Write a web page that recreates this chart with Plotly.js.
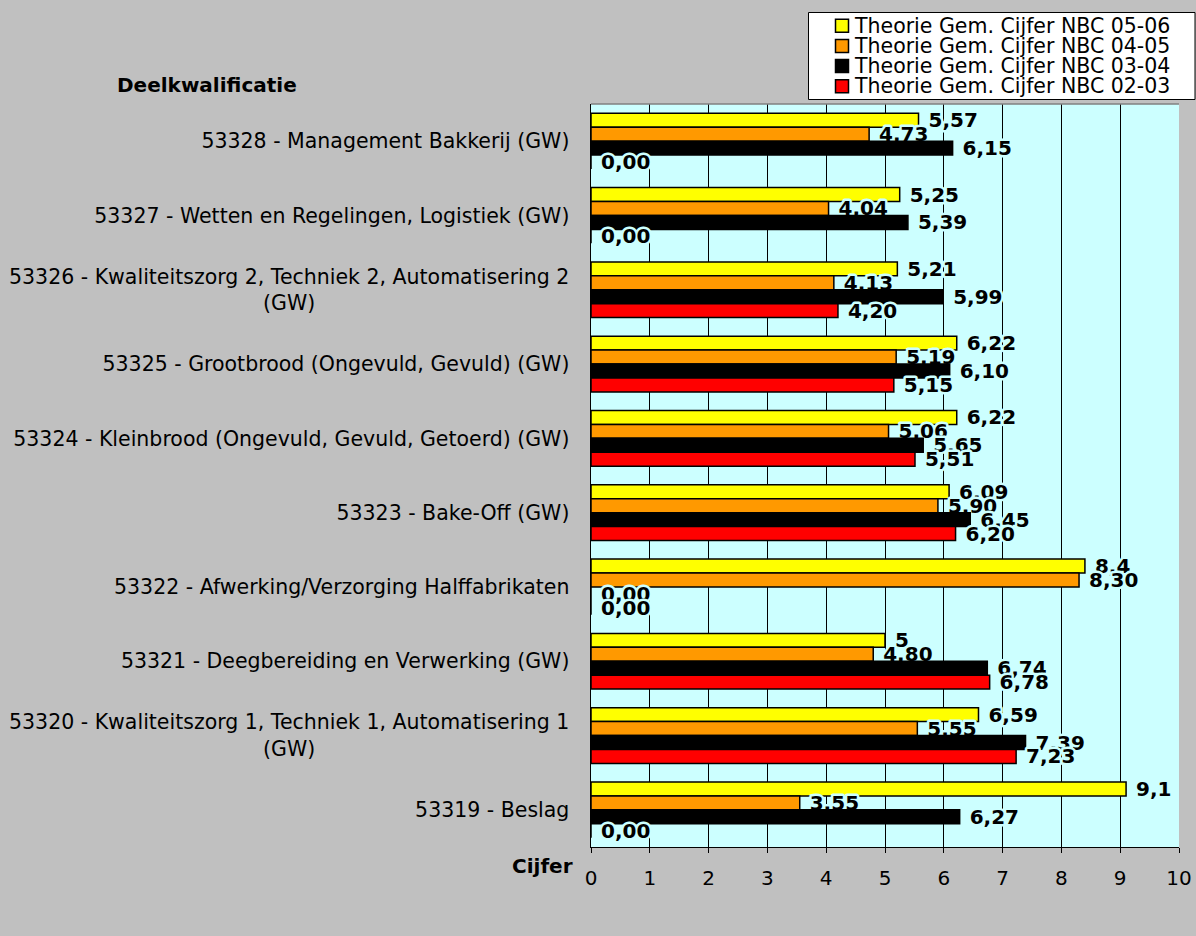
<!DOCTYPE html>
<html><head><meta charset="utf-8">
<script src="https://cdn.plot.ly/plotly-3.0.1.min.js"></script>
<style>
html,body{margin:0;padding:0;background:#c0c0c0}
text.bartext{stroke:#CCFFFF;stroke-width:5px;stroke-linejoin:round;paint-order:stroke fill;}
</style>
</head><body><div id="chart" style="width:1196px;height:936px"></div>
<script>
const NB = '\u00a0';
const categories = [
  "53328 - Management Bakkerij (GW)",
  "53327 - Wetten en Regelingen, Logistiek (GW)",
  "53326 - Kwaliteitszorg 2, Techniek 2, Automatisering 2<br>(GW)" + NB.repeat(39),
  "53325 - Grootbrood (Ongevuld, Gevuld) (GW)",
  "53324 - Kleinbrood (Ongevuld, Gevuld, Getoerd) (GW)",
  "53323 - Bake-Off (GW)",
  "53322 - Afwerking/Verzorging Halffabrikaten",
  "53321 - Deegbereiding en Verwerking (GW)",
  "53320 - Kwaliteitszorg 1, Techniek 1, Automatisering 1<br>(GW)" + NB.repeat(39),
  "53319 - Beslag"
];
const seriesNames = [
  "Theorie Gem. Cijfer NBC 05-06",
  "Theorie Gem. Cijfer NBC 04-05",
  "Theorie Gem. Cijfer NBC 03-04",
  "Theorie Gem. Cijfer NBC 02-03"
];
const seriesColors = ["#FFFF00", "#FF9900", "#000000", "#FF0000"];

const values0506 = [5.57, 5.25, 5.21, 6.22, 6.22, 6.09, 8.4, 5, 6.59, 9.1];
const values0405 = [4.73, 4.04, 4.13, 5.19, 5.06, 5.90, 8.30, 4.80, 5.55, 3.55];
const values0304 = [6.15, 5.39, 5.99, 6.10, 5.65, 6.45, 0.00, 6.74, 7.39, 6.27];
const values0203 = [0.00, 0.00, 4.20, 5.15, 5.51, 6.20, 0.00, 6.78, 7.23, 0.00];

const labels0506 = ["5,57", "5,25", "5,21", "6,22", "6,22", "6,09", "8,4", "5", "6,59", "9,1"];
const labels0405 = ["4,73", "4,04", "4,13", "5,19", "5,06", "5,90", "8,30", "4,80", "5,55", "3,55"];
const labels0304 = ["6,15", "5,39", "5,99", "6,10", "5,65", "6,45", "0,00", "6,74", "7,39", "6,27"];
const labels0203 = ["0,00", "0,00", "4,20", "5,15", "5,51", "6,20", "0,00", "6,78", "7,23", "0,00"];

const allValues = [values0506, values0405, values0304, values0203];
const allLabels = [labels0506, labels0405, labels0304, labels0203];

const FONT = "DejaVu Sans, Verdana, sans-serif";

// plot area in pixels (for layout-only helpers: legend box, titles)
const PL = 591, PR = 1179, PT = 104, PB = 847;
const px = x => (x - PL) / (PR - PL);
const py = y => (PB - y) / (PB - PT);

const traces = allValues.map((vals, i) => ({
  type: 'bar',
  orientation: 'h',
  name: seriesNames[i],
  x: vals,
  y: categories,
  text: allLabels[i],
  texttemplate: NB + '%{text}',
  textposition: 'outside',
  constraintext: 'none',
  cliponaxis: false,
  outsidetextfont: {family: FONT, size: 20, color: '#000000', weight: 'bold'},
  marker: {color: seriesColors[i], line: {color: '#000000', width: 1.5}},
  showlegend: false,
  hoverinfo: 'x+y+name'
}));

// legend drawn as layout shapes + text annotations
const legendShapes = [
  {type: 'rect', xref: 'paper', yref: 'paper', layer: 'above',
   x0: px(808.5), x1: px(1195), y0: py(12.5), y1: py(99.5),
   fillcolor: '#FFFFFF', line: {color: '#000000', width: 1}}
];
const legendAnnotations = [];
const rowY = [25.8, 46, 66.1, 86.3];
seriesNames.forEach((name, i) => {
  legendShapes.push({type: 'rect', xref: 'paper', yref: 'paper', layer: 'above',
    x0: px(835.5), x1: px(848.5), y0: py(rowY[i] - 6.5), y1: py(rowY[i] + 6.5),
    fillcolor: seriesColors[i], line: {color: '#000000', width: 1.5}});
  legendAnnotations.push({text: name, xref: 'paper', yref: 'paper',
    x: px(852), xanchor: 'left', y: py(rowY[i]), yanchor: 'middle',
    showarrow: false, font: {family: FONT, size: 20.5, color: '#000000'}});
});

const layout = {
  width: 1196, height: 936,
  paper_bgcolor: '#C0C0C0',
  plot_bgcolor: '#CCFFFF',
  margin: {l: PL, r: 1196 - PR, t: PT, b: 936 - PB, pad: 0, autoexpand: false},
  barmode: 'group',
  bargap: 0.25,
  bargroupgap: 0,
  font: {family: FONT, size: 20, color: '#000000'},
  showlegend: false,
  xaxis: {
    range: [0, 10], tick0: 0, dtick: 1,
    showgrid: true, gridcolor: '#000000', gridwidth: 1,
    zeroline: false,
    showline: true, linecolor: '#000000', linewidth: 1,
    ticks: 'outside', ticklen: 5, tickcolor: '#000000', tickwidth: 1,
    ticklabelstandoff: 8,
    tickfont: {family: FONT, size: 20, color: '#000000'},
    automargin: false, fixedrange: true
  },
  yaxis: {
    type: 'category',
    autorange: 'reversed',
    showgrid: false, zeroline: false,
    showline: true, linecolor: '#000000', linewidth: 1.5,
    ticks: '', ticklabelstandoff: 16,
    tickfont: {family: FONT, size: 20.5, color: '#000000'},
    automargin: false, fixedrange: true
  },
  shapes: [
    {type: 'line', xref: 'paper', yref: 'paper', x0: 0, x1: 1, y0: 1, y1: 1,
     line: {color: '#808080', width: 1.5}}
  ].concat(legendShapes),
  annotations: [
    {text: '<b>Deelkwalificatie</b>', xref: 'paper', yref: 'paper',
     x: px(299), xanchor: 'right', y: py(85), yanchor: 'middle',
     showarrow: false, font: {family: FONT, size: 20, color: '#000000'}},
    {text: '<b>Cijfer</b>', xref: 'paper', yref: 'paper',
     x: px(575), xanchor: 'right', y: py(866), yanchor: 'middle',
     showarrow: false, font: {family: FONT, size: 20, color: '#000000'}}
  ].concat(legendAnnotations)
};

Plotly.newPlot('chart', traces, layout, {displayModeBar: false, staticPlot: true});
</script></body></html>
